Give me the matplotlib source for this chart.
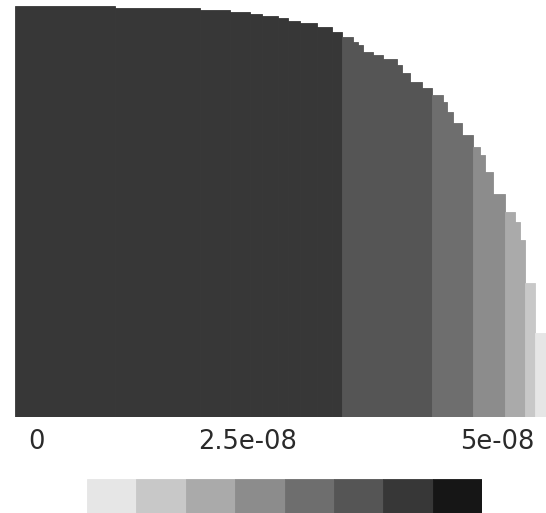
import numpy as np
import matplotlib
matplotlib.use('Agg')
import matplotlib.pyplot as plt

# column edges along x (nm) and top height of each column (nm)
x_edges = [0.00, 10.36, 19.16, 22.27, 24.34, 25.58, 27.24, 28.28, 29.52, 31.28,
           32.83, 33.87, 35.01, 35.53, 36.05, 37.08, 38.12, 39.57, 40.08, 40.91,
           42.16, 43.19, 44.33, 44.75, 45.37, 46.30, 47.44, 48.16, 48.68, 49.51,
           50.75, 51.79, 52.31, 52.83, 53.86, 55.00]
heights = [42.57, 42.36, 42.16, 41.95, 41.74, 41.54, 41.33, 41.02, 40.81, 40.40,
           39.88, 39.36, 38.84, 38.53, 37.81, 37.50, 37.08, 36.46, 35.63, 34.70,
           34.08, 33.35, 32.63, 31.59, 30.45, 29.21, 27.97, 27.14, 25.38, 23.10,
           21.23, 20.20, 18.33, 13.88, 8.70]

# x positions (nm) where the contour level changes
level_edges = [33.87, 43.19, 47.44, 50.75, 52.83, 53.86]

# grey levels of the legend, light to dark
palette = ['#e6e6e6', '#c8c8c8', '#aaaaaa', '#8c8c8c',
           '#6e6e6e', '#555555', '#373737', '#161616']

tick_labels = ['0', '2.5e-08', '5e-08']

x_edges = np.array(x_edges)
heights = np.array(heights)
lefts = x_edges[:-1]
widths = np.diff(x_edges)
mids = lefts + widths / 2
level = 6 - np.digitize(mids, level_edges)
colors = [palette[i] for i in level]

fig = plt.figure(figsize=(5.46, 5.13), dpi=100)

W, H = 546, 513
ax = fig.add_axes([15 / W, (H - 417) / H, (546 - 15) / W, 411 / H])
ax.bar(lefts, heights, width=widths, align='edge', color=colors,
       edgecolor=colors, linewidth=0.6)
ax.set_xlim(0, 55)
ax.set_ylim(0, 42.57)
ax.axis('off')

# tick labels under the field
label_x = [36, 248, 497]
for px, lab in zip(label_x, tick_labels):
    fig.text(px / W, (H - 442) / H, lab, ha='center', va='center',
             fontsize=18.5, color='#2a2a2a', family='DejaVu Sans')

# colour legend strip
cax = fig.add_axes([87 / W, 0, (482 - 87) / W, 34 / H])
cax.bar(np.arange(len(palette)), 1, width=1, color=palette,
        edgecolor=palette, linewidth=0.6)
cax.set_xlim(-0.5, len(palette) - 0.5)
cax.set_ylim(0, 1)
cax.axis('off')

fig.savefig('out.png', dpi=100)
